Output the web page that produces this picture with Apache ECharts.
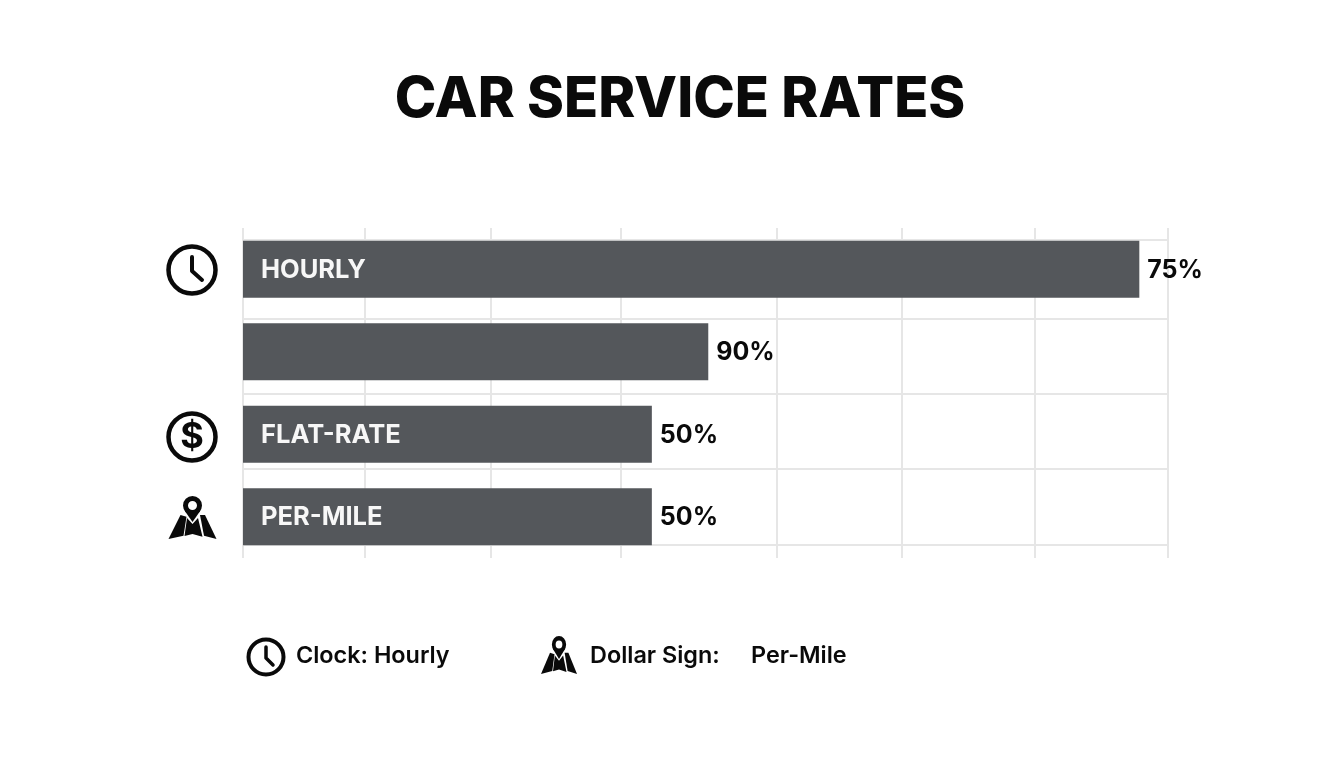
<!DOCTYPE html>
<html>
<head>
<meta charset="utf-8">
<style>html,body{margin:0;padding:0;background:#fff}#c{width:1344px;height:768px}</style>
<script src="https://cdn.jsdelivr.net/npm/echarts@6/dist/echarts.min.js"></script>
</head>
<body>
<div id="c"></div>
<script>
const chartTitle = 'CAR SERVICE RATES';
const categories = ['HOURLY', '', 'FLAT-RATE', 'PER-MILE'];
const barLengths = [96.9, 50.3, 44.2, 44.2];
const valueLabels = ['75%', '90%', '50%', '50%'];
const verticalGrid = [0, 13.2, 26.8, 40.8, 57.7, 71.2, 85.6, 100];
const horizontalGrid = [3.6, 27.6, 50.3, 73.0, 96.1];
const legendClock = 'Clock: Hourly';
const legendMap = 'Dollar Sign:';
const legendMapValue = 'Per-Mile';

const INK = '#0a0a0a', BAR = '#54575b', GRIDLINE = '#e6e6e6';
const FONT = 'Inter';

function clockIcon(cx, cy, r, lw, h1, h2x, h2y) {
  return { type: 'group', x: cx, y: cy, children: [
    { type: 'circle', shape: { cx: 0, cy: 0, r }, style: { fill: 'none', stroke: INK, lineWidth: lw } },
    { type: 'polyline', shape: { points: [[0, -h1], [0, 1], [h2x, h2y]] },
      style: { fill: 'none', stroke: INK, lineWidth: lw - 0.5, lineCap: 'round', lineJoin: 'round' } }
  ] };
}
function mapIcon(cx, top, sx, sy) {
  const poly = p => ({ type: 'polygon', shape: { points: p }, style: { fill: INK } });
  return { type: 'group', x: cx, y: top, scaleX: sx, scaleY: sy, children: [
    { type: 'ring', shape: { cx: 0, cy: 8.5, r: 9.5, r0: 4.5 }, style: { fill: INK } },
    poly([[-8, 13.5], [8, 13.5], [0, 25]]),
    poly([[-24, 42], [-12, 18], [-6, 19.7], [-9, 38.7]]),
    poly([[-5.5, 21], [0, 27], [5.5, 21], [10, 39.7], [0, 37], [-8, 39]]),
    poly([[7.5, 18], [12.5, 18], [24, 42], [11.5, 38.7]])
  ] };
}

const chart = echarts.init(document.getElementById('c'), null, { renderer: 'canvas' });
chart.setOption({
  animation: false,
  backgroundColor: '#ffffff',
  title: {
    text: chartTitle, left: 675, top: 67, textAlign: 'center',
    textStyle: { fontFamily: FONT, fontSize: 56, fontWeight: 800, color: INK }
  },
  grid: { left: 243, right: 176, top: 228, bottom: 210, containLabel: false },
  xAxis: {
    type: 'value', min: 0, max: 100, position: 'top',
    axisLine: { show: false }, axisLabel: { show: false },
    axisTick: { show: false, customValues: verticalGrid },
    splitLine: { show: true, lineStyle: { color: GRIDLINE, width: 2 } }
  },
  yAxis: [
    { type: 'category', data: categories, inverse: true,
      axisLine: { show: false }, axisTick: { show: false }, axisLabel: { show: false }, splitLine: { show: false } },
    { type: 'value', min: 0, max: 100, inverse: true, position: 'right',
      axisLine: { show: false }, axisLabel: { show: false },
      axisTick: { show: false, customValues: horizontalGrid },
      splitLine: { show: true, lineStyle: { color: GRIDLINE, width: 2 } } }
  ],
  series: [
    { type: 'bar', name: 'Rate', data: barLengths, barWidth: 57, barGap: '-100%', yAxisIndex: 0,
      itemStyle: { color: BAR },
      label: { show: true, position: 'insideLeft', distance: 18, offset: [0, 1], formatter: p => p.name,
        fontFamily: FONT, fontSize: 25.5, fontWeight: 700, color: '#f7f7f7' } },
    { type: 'bar', name: 'Labels', data: barLengths, barWidth: 57, barGap: '-100%', yAxisIndex: 0,
      itemStyle: { color: 'transparent' },
      label: { show: true, position: 'right', distance: 8, offset: [0, 1], formatter: p => valueLabels[p.dataIndex],
        fontFamily: FONT, fontSize: 25, fontWeight: 700, color: INK } }
  ],
  graphic: { elements: [
    clockIcon(192, 270, 23.5, 4.5, 13, 10, 10),
    { type: 'group', x: 192, y: 437, children: [
      { type: 'circle', shape: { cx: 0, cy: 0, r: 23.5 }, style: { fill: 'none', stroke: INK, lineWidth: 4.5 } },
      { type: 'text', x: 0, y: 0, style: { text: '$', x: 0, y: 0, align: 'center', verticalAlign: 'middle',
        fontFamily: FONT, fontSize: 36, fontWeight: 700, fill: INK } }
    ] },
    mapIcon(192.5, 497, 1, 1),
    clockIcon(266, 657, 17.5, 4, 10, 7, 8),
    mapIcon(559, 637, 0.75, 0.88),
    { type: 'text', x: 296, y: 656, style: { text: legendClock, verticalAlign: 'middle',
      fontFamily: FONT, fontSize: 23.4, fontWeight: 600, fill: INK } },
    { type: 'text', x: 590, y: 656, style: { text: legendMap, verticalAlign: 'middle',
      fontFamily: FONT, fontSize: 23.4, fontWeight: 600, fill: INK } },
    { type: 'text', x: 751, y: 656, style: { text: legendMapValue, verticalAlign: 'middle',
      fontFamily: FONT, fontSize: 23.4, fontWeight: 600, fill: INK } }
  ] }
});
</script>
</body>
</html>
